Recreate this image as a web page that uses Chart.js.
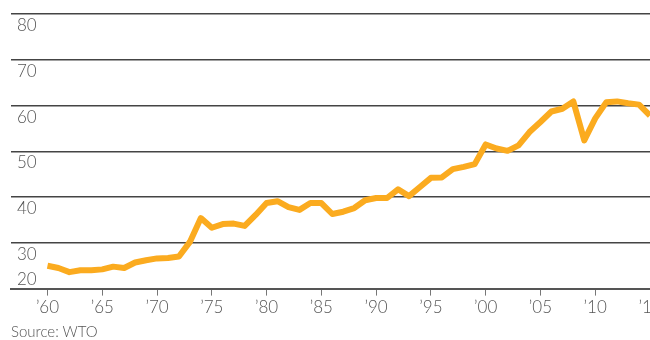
<!DOCTYPE html>
<html>
<head>
<meta charset="utf-8">
<script src="https://cdn.jsdelivr.net/npm/chart.js@4/dist/chart.umd.min.js"></script>
<style>
  html, body { margin: 0; padding: 0; background: #fff; }
  #wrap { position: relative; width: 650px; height: 340px; }
  #source { position: absolute; left: 11px; top: 322px; font: 300 15px Lato, sans-serif; color: #555; }
</style>
</head>
<body>
<div id="wrap">
  <canvas id="grafico" width="650" height="340"></canvas>
  <div id="source">Source: WTO</div>
</div>
<script>
var anos = [1960, 1961, 1962, 1963, 1964, 1965, 1966, 1967, 1968, 1969,
            1970, 1971, 1972, 1973, 1974, 1975, 1976, 1977, 1978, 1979,
            1980, 1981, 1982, 1983, 1984, 1985, 1986, 1987, 1988, 1989,
            1990, 1991, 1992, 1993, 1994, 1995, 1996, 1997, 1998, 1999,
            2000, 2001, 2002, 2003, 2004, 2005, 2006, 2007, 2008, 2009,
            2010, 2011, 2012, 2013, 2014, 2015];
var valores = [25.0, 24.5, 23.6, 24.0, 24.0, 24.2, 24.8, 24.5, 25.7, 26.2,
               26.6, 26.7, 27.0, 30.2, 35.4, 33.3, 34.1, 34.2, 33.7, 36.1,
               38.7, 39.1, 37.8, 37.2, 38.7, 38.7, 36.3, 36.8, 37.6, 39.3,
               39.8, 39.8, 41.7, 40.2, 42.2, 44.2, 44.3, 46.1, 46.6, 47.2,
               51.5, 50.6, 50.1, 51.3, 54.2, 56.4, 58.7, 59.3, 60.9, 52.4,
               57.2, 60.7, 60.9, 60.5, 60.2, 57.8];
var anosTicks = [1960, 1965, 1970, 1975, 1980, 1985, 1990, 1995, 2000, 2005, 2010, 2015];
var valoresTicks = [20, 30, 40, 50, 60, 70, 80];

// rótulos do eixo Y desenhados logo abaixo de cada linha de grade
var rotulosY = {
    id: "rotulosY",
    afterDraw: function (chart) {
        var ctx = chart.ctx;
        var y = chart.scales.y;
        var left = chart.chartArea.left;
        ctx.save();
        ctx.font = "300 17px Lato, sans-serif";
        ctx.fillStyle = "#555";
        ctx.textAlign = "left";
        valoresTicks.forEach(function (v) {
            var py = y.getPixelForValue(v);
            if (v === 20) {
                ctx.textBaseline = "bottom";
                ctx.fillText(String(v), left + 6, py - 1);
            } else {
                ctx.textBaseline = "top";
                ctx.fillText(String(v), left + 6, py + 3);
            }
        });
        ctx.restore();
    }
};

var ctx = document.getElementById("grafico").getContext("2d");
new Chart(ctx, {
    type: "line",
    data: {
        labels: anos,
        datasets: [{
            data: anos.map(function (a, i) { return { x: a, y: valores[i] }; }),
            borderColor: "#fbab1f",
            backgroundColor: "transparent",
            borderWidth: 6,
            pointRadius: 0,
            tension: 0,
            borderJoinStyle: "round"
        }]
    },
    options: {
        responsive: false,
        animation: false,
        layout: { padding: { left: 11, top: 14, right: 0, bottom: 20 } },
        plugins: { legend: { display: false }, tooltip: { enabled: false } },
        scales: {
            x: {
                type: "linear",
                min: 1956.67,
                max: 2015,
                afterBuildTicks: function (axis) {
                    axis.ticks = anosTicks.map(function (v) { return { value: v }; });
                },
                afterFit: function (axis) {
                    // o último rótulo ('15) pode sair da tela, como no original
                    axis.paddingLeft = 0;
                    axis.paddingRight = 0;
                },
                grid: { drawOnChartArea: false, drawTicks: true, tickLength: 7, color: "#777", lineWidth: 1 },
                border: { color: "#555", width: 2 },
                ticks: {
                    autoSkip: false,
                    maxRotation: 0,
                    padding: 2,
                    color: "#555",
                    font: { family: "Lato", size: 17, weight: "300" },
                    callback: function (v) { return "\u2019" + String(v % 100).padStart(2, "0"); }
                }
            },
            y: {
                min: 20,
                max: 80,
                afterBuildTicks: function (axis) {
                    axis.ticks = valoresTicks.map(function (v) { return { value: v }; });
                },
                grid: { drawTicks: false, color: "#444", lineWidth: 1.5 },
                border: { display: false },
                ticks: { display: false }
            }
        }
    },
    plugins: [rotulosY]
});
</script>
</body>
</html>
